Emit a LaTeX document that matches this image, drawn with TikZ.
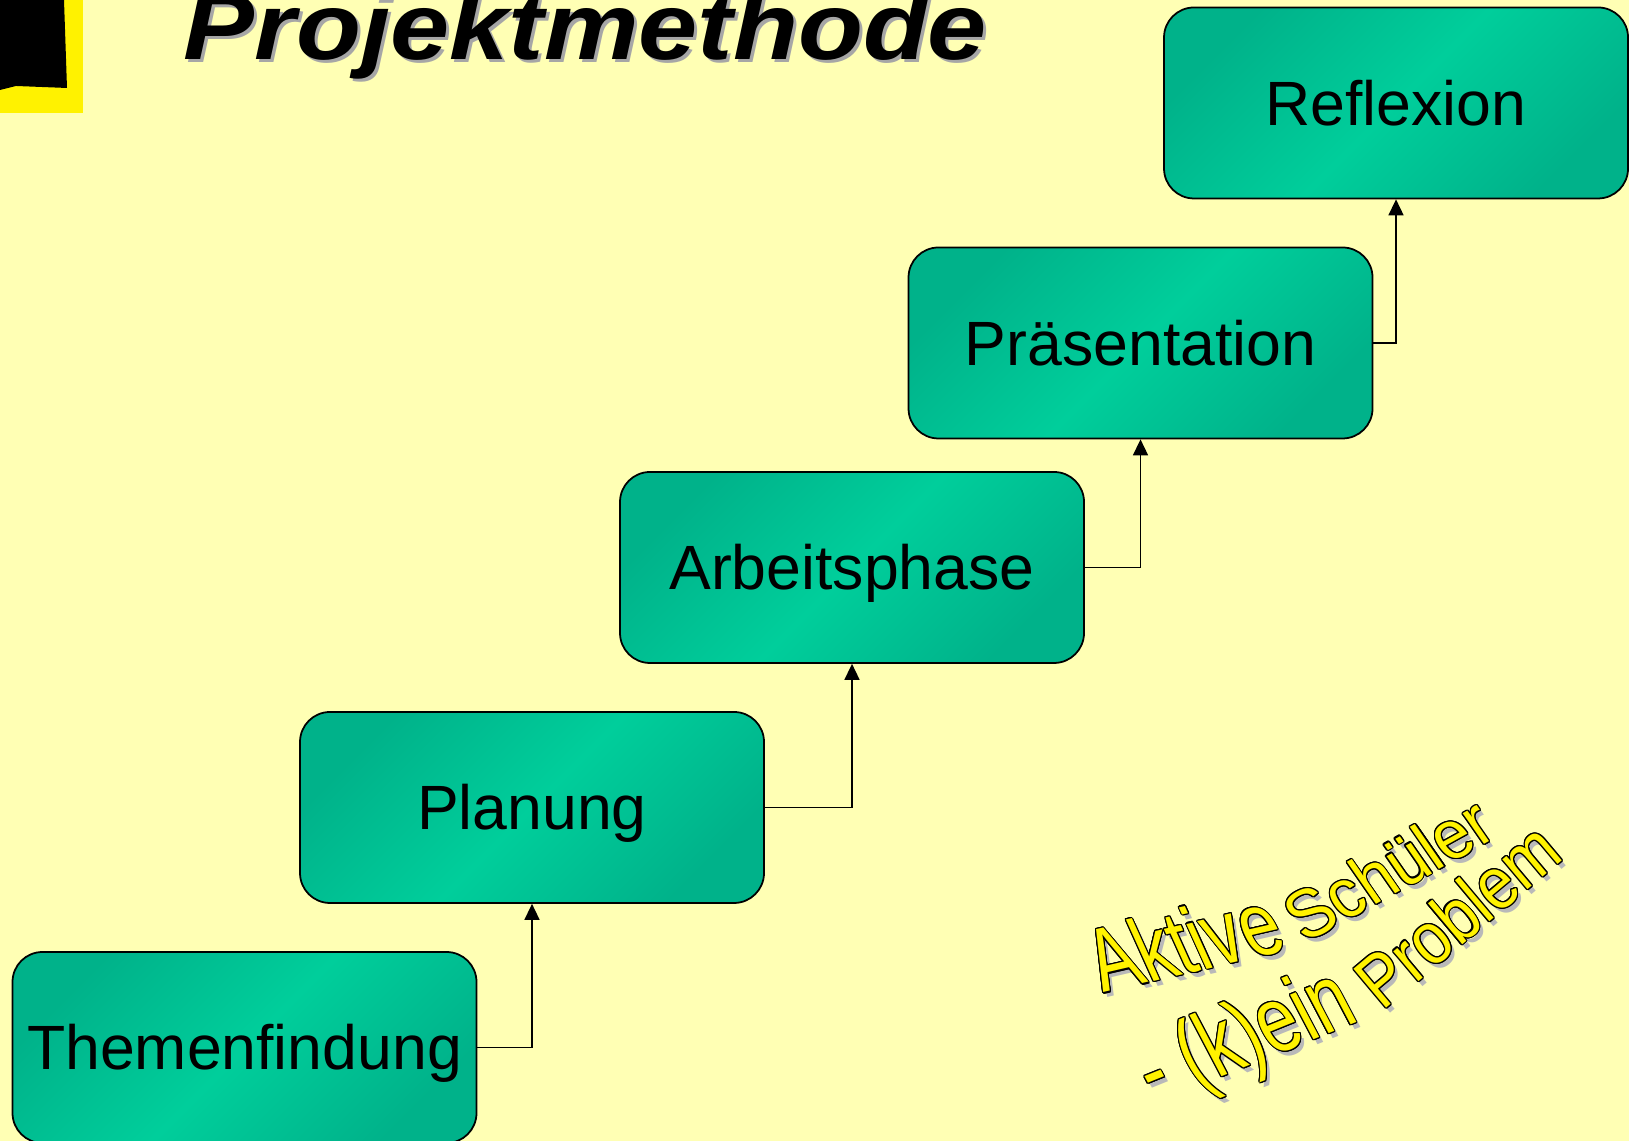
\documentclass[tikz,border=0pt]{standalone}
\usepackage{fontspec}
\setmainfont{Liberation Sans}
\usepackage{contour}
\contourlength{0.35pt}
\usetikzlibrary{arrows.meta}
\definecolor{bgyellow}{RGB}{255,255,180}
\definecolor{tealdark}{RGB}{0,178,138}
\definecolor{teallight}{RGB}{0,206,155}
\definecolor{shadowgray}{RGB}{185,185,185}
\begin{document}
\begin{tikzpicture}[
		stufe/.style = {draw = black, line width = 0.5pt, rounded corners = 0.3cm,
			minimum width = 4.64cm, minimum height = 1.91cm, inner sep = 0pt,
			top color = tealdark, bottom color = tealdark, middle color = teallight,
			shading angle = 45, font = \fontsize{17.8}{20}\selectfont,
			text height = 12.7pt, text depth = 0pt},
		pfeil/.style = {line width = 0.45pt, -{Triangle[length = 0.16cm, width = 0.15cm]}},
		wordart/.style = {anchor = base west, inner sep = 0pt, transform shape},
		wordshadow/.style = {wordart, text = shadowgray}
	]
			\useasboundingbox (0,0) rectangle (16.29,11.41);
			\fill[bgyellow] (0,0) rectangle (16.29,11.41);
			% emblem top left
			\fill[yellow] (0,11.41) rectangle (0.83,10.28);
			\fill[black] (0,11.41) -- (0.64,11.41) -- (0.67,10.53) -- (0.16,10.55) -- (0,10.51) -- cycle;
			% title
			\node[anchor = base west, transform shape, xscale = 1.12, text = gray!70, font = \fontsize{27}{27}\selectfont\bfseries\itshape] (titleshadow) at (1.73,10.78) {Projektmethode};
			\node[anchor = base west, transform shape, xscale = 1.12, font = \fontsize{27}{27}\selectfont\bfseries\itshape] (title) at (1.70,10.81) {Projektmethode};
			% steps
			\node[stufe] (them) at (2.445,0.935) {Themenfindung};
			\node[stufe] (plan) at (5.32,3.335) {Planung};
			\node[stufe] (arb) at (8.52,5.735) {Arbeitsphase};
			\node[stufe] (praes) at (11.405,7.98) {Präsentation};
			\node[stufe] (refl) at (13.96,10.38) {Reflexion};
			\draw[pfeil] (them.east) -| (plan.south);
			\draw[pfeil] (plan.east) -| (arb.south);
			\draw[pfeil] (arb.east) -| (praes.south);
			\draw[pfeil] (praes.east) -| (refl.south);
			% word art
			\node[wordshadow, rotate = 13, xslant = -0.2, xscale = 0.77, font = \fontsize{26}{26}\selectfont] (aktiveS) at (11.07,1.43) {Aktive};
			\node[wordshadow, rotate = 29, xslant = -0.1, xscale = 0.93, font = \fontsize{20}{20}\selectfont] (schuelerS) at (13.09,1.92) {Schüler};
			\node[wordshadow, rotate = 22, xslant = -0.1, xscale = 0.75, font = \fontsize{27}{27}\selectfont] (keinS) at (11.59,0.32) {- (k)ein};
			\node[wordshadow, rotate = 40, xscale = 0.87, font = \fontsize{21}{21}\selectfont] (problemS) at (13.86,1.24) {Problem};
			\node[wordart, rotate = 13, xslant = -0.2, xscale = 0.77, font = \fontsize{26}{26}\selectfont] (aktive) at (11.03,1.48) {\contour{black}{\textcolor{yellow}{Aktive}}};
			\node[wordart, rotate = 29, xslant = -0.1, xscale = 0.93, font = \fontsize{20}{20}\selectfont] (schueler) at (13.05,1.97) {\contour{black}{\textcolor{yellow}{Schüler}}};
			\node[wordart, rotate = 22, xslant = -0.1, xscale = 0.75, font = \fontsize{27}{27}\selectfont] (kein) at (11.55,0.37) {\contour{black}{\textcolor{yellow}{- (k)ein}}};
			\node[wordart, rotate = 40, xscale = 0.87, font = \fontsize{21}{21}\selectfont] (problem) at (13.82,1.29) {\contour{black}{\textcolor{yellow}{Problem}}};
		\end{tikzpicture}
\end{document}
